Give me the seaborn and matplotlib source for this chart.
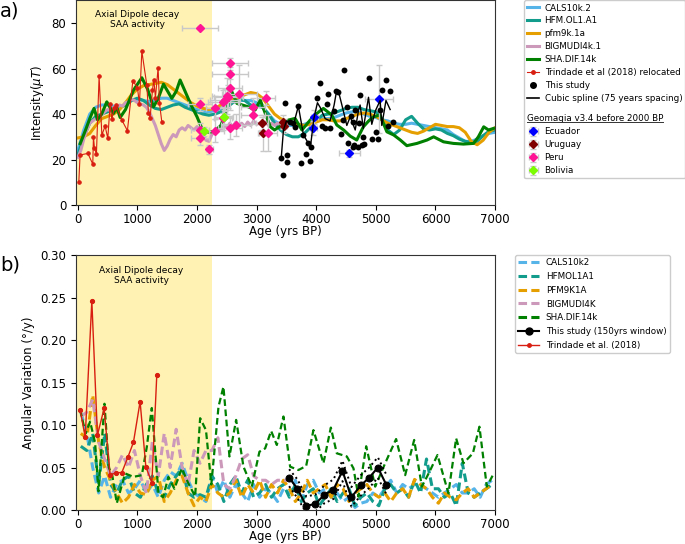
import matplotlib
matplotlib.use("Agg")
import matplotlib.pyplot as plt
import numpy as np
import seaborn as sns
from matplotlib.lines import Line2D
from matplotlib.offsetbox import DrawingArea
from matplotlib.transforms import IdentityTransform

# ---------------- panel a) intensity ----------------
AGE_GRID = np.arange(0, 7001, 100)

CALS_INT = [24, 33, 40, 43, 44, 44, 43.5, 43, 44, 46,
            46.5, 46, 45.5, 46, 47, 47, 46, 45, 44, 43,
            42, 41, 41, 41.5, 42.5, 44, 45.5, 46, 46, 46,
            45, 43, 40, 37, 35.5, 35, 35, 35, 35.5, 36.5,
            37.5, 38, 38, 38.5, 39.5, 40.5, 41, 41, 40, 39,
            38.5, 37.5, 37, 36, 35.5, 35.5, 36, 35.5, 35, 34.5,
            34, 33.5, 33, 31, 29.5, 28, 28, 29, 30.5, 31.5,
            32]
HFM_INT = [22, 30, 36, 39, 40, 41, 42, 43, 44, 46,
           47, 46, 44, 42.5, 42, 43, 44, 44.5, 43, 42,
           41, 40, 39.5, 40, 41, 43, 45, 46.5, 46, 44,
           43.5, 43, 40, 36, 33, 31, 30, 30, 31.5, 34,
           37, 39.5, 40, 40.5, 41.5, 42.5, 43, 43, 42, 41.5,
           41, 38, 33, 31, 33, 37.5, 39, 36, 33.5, 33,
           33.5, 33, 31.5, 30.5, 29, 28, 27.5, 28, 30.5, 32.5,
           33]
PFM_INT = [29.5, 30, 31.5, 35, 38, 39, 40, 42, 45, 48.5,
           51, 52.5, 53, 53.5, 54, 53, 51, 49, 47, 45,
           43.5, 42.5, 42, 42.5, 44, 45.5, 46.5, 47.5, 48.5, 49.5,
           49, 47, 43.5, 40, 38, 37, 36, 35.5, 35, 35.5,
           36.5, 37.5, 37.5, 37, 37, 38, 39, 40, 40.5, 40,
           39, 37.5, 36, 35, 34, 33, 32, 31.5, 32.5, 34,
           35.5, 35, 34.5, 34.5, 34, 32, 28, 26.5, 28.5, 32,
           34]

BIG_AGE = np.arange(0, 3501, 50)
BIG_INT = [21, 24, 29, 33, 36, 37, 38, 38.5, 39.5, 41,
           42, 41.5, 43, 42.5, 44, 43.5, 45, 45.5, 46.5, 46,
           45, 44.5, 44, 43, 41, 38, 35, 31, 27, 24,
           26, 29, 31, 30, 33, 34, 33, 35, 34, 33,
           34.5, 33, 31, 28.5, 28, 31, 32, 34, 33, 35,
           34, 36, 34.5, 36.5, 35, 36, 34.5, 36.5, 35, 37,
           35.5, 36, 35, 36.5, 35, 36, 35, 36, 35, 35.5,
           35]

SHA_AGE = [40, 130, 200, 272, 330, 400, 486, 598, 654, 710,
           800, 933, 1074, 1170, 1270, 1350, 1437, 1577, 1650, 1716,
           1800, 1900, 2000, 2100, 2200, 2300, 2400, 2475, 2585, 2670,
           2760, 2860, 2975, 3060, 3145, 3230, 3300, 3395, 3535, 3645,
           3760, 3900, 4010, 4120, 4260, 4345, 4460, 4570, 4680, 4790,
           4880, 4960, 5070, 5185, 5300, 5410, 5520, 5690, 5860, 5970,
           6135, 6300, 6470, 6640, 6720, 6810, 6890, 6975]
SHA_INT = [27, 33, 38, 42.5, 37.5, 40, 45.4, 40.3, 43, 38.5,
           42, 50.5, 56, 51, 43.2, 47, 53.2, 46.9, 50, 55,
           50, 44, 38.8, 32.5, 32, 32.5, 35, 40.3, 49.8, 44.7,
           44, 43.2, 41.8, 46.2, 40.3, 34.4, 33, 34.7, 37.4, 38.1,
           33, 37.4, 40.3, 42.5, 39.6, 35.2, 33, 30.3, 28.6, 34.4,
           37, 38.8, 39.6, 32.2, 30.8, 28.6, 26.1, 27.1, 28.6, 30,
           27.8, 27.1, 26.8, 27.1, 30, 34.4, 33, 33.7]

TRI_AGE = [17, 38, 168, 251, 262, 279, 312, 357, 403, 458,
           503, 542, 570, 614, 643, 738, 832, 923, 1000, 1034,
           1074, 1158, 1185, 1213, 1252, 1275, 1302, 1347, 1369, 1409]
TRI_INT = [10.3, 22.0, 22.7, 18.0, 30.0, 25.2, 22.3, 56.8, 30.8, 34.7,
           29.3, 44.4, 37.8, 42.9, 43.8, 37.4, 32.7, 54.6, 51.7, 44.4,
           67.7, 52.7, 40.6, 38.4, 50.5, 55.2, 47.2, 60.4, 45.0, 36.6]

STUDY_AGE = [3412, 3440, 3473, 3507, 3517, 3562, 3607, 3649, 3701, 3742,
             3786, 3826, 3854, 3899, 3909, 4020, 4065, 4103, 4148, 4178,
             4205, 4232, 4300, 4334, 4373, 4413, 4457, 4473, 4513, 4540,
             4580, 4614, 4624, 4636, 4653, 4700, 4725, 4736, 4760, 4780,
             4804, 4888, 4932, 5000, 5044, 5072, 5100, 5173, 5211, 5240,
             5296]
STUDY_INT = [20.5, 13.2, 45.1, 19.0, 22.0, 36.6, 35.9, 34.4, 43.5, 18.6,
             30.8, 22.4, 27.4, 19.5, 25.6, 47.2, 53.5, 34.7, 34.0, 44.4,
             48.7, 34.0, 41.3, 50.2, 49.8, 31.2, 37.4, 59.6, 43.2, 27.4,
             39.1, 25.6, 36.6, 26.4, 41.8, 25.5, 35.9, 48.4, 26.5, 30.0,
             26.8, 55.7, 28.9, 32.2, 28.9, 41.8, 50.5, 54.9, 34.7, 50.1,
             36.6]

SPLINE_AGE = [3412, 3450, 3500, 3560, 3620, 3700, 3786, 3860, 3900, 3960,
              4020, 4065, 4150, 4232, 4300, 4340, 4373, 4440, 4513, 4570,
              4654, 4710, 4736, 4790, 4877, 4932, 4990, 5072, 5100, 5170,
              5240]
SPLINE_INT = [20.5, 33, 37, 36.5, 35.5, 43.5, 30.8, 27.5, 25, 38,
              45, 43, 38, 37, 44, 50, 50, 43, 35, 38.8,
              33, 41.8, 44, 33.7, 47.4, 35.5, 41.3, 46, 35, 46,
              42]

ECU_AGE = [3953, 3970, 4557, 5055]
ECU_INT = [34.0, 38.8, 22.7, 46.5]
ECU_XERR = [60, 60, 170, 240]
ECU_YERR = [3, 3, 1.5, 15]

URU_AGE = [3087, 3115, 3440, 3462]
URU_INT = [35.9, 31.8, 36.6, 34.7]
URU_XERR = [100, 100, 50, 50]
URU_YERR = [3, 8, 3, 3]

PERU_AGE = [2052, 2052, 2052, 2052, 2203, 2299, 2304, 2431, 2433, 2471, 2500,
            2527, 2555, 2555, 2555, 2555, 2656, 2711, 2946, 2946, 3159, 3198]
PERU_INT = [78.1, 44.3, 33.0, 29.3, 24.6, 42.9, 32.7, 38.1, 45.4, 46.2, 48.0,
            47.6, 62.6, 57.6, 51.7, 34.0, 35.2, 48.7, 43.0, 39.6, 47.2, 31.8]
PERU_XERR = [300, 200, 150, 150, 60, 150, 150, 150, 250, 250, 250,
             250, 300, 300, 200, 200, 250, 300, 200, 200, 150, 150]
PERU_YERR = [0.5, 3, 3, 3, 2, 5, 5, 5, 5, 5, 8,
             5, 2, 2, 10, 5, 5, 13, 4, 4, 3, 8]

BOL_AGE = [2119, 2455]
BOL_INT = [32.5, 38.8]
BOL_XERR = [80, 150]
BOL_YERR = [2, 3]

# ---------------- panel b) angular variation ----------------
AV_AGE = np.arange(50, 7000, 100)
CALS_AV = [0.115, 0.09, 0.05, 0.02, 0.04, 0.015, 0.03, 0.035, 0.02, 0.025,
           0.035, 0.02, 0.03, 0.015, 0.035, 0.045, 0.04, 0.055, 0.035, 0.02,
           0.015, 0.01, 0.04, 0.02, 0.035, 0.015, 0.03, 0.02, 0.01, 0.03,
           0.015, 0.025, 0.02, 0.01, 0.025, 0.02, 0.035, 0.01, 0.03, 0.035,
           0.02, 0.025, 0.015, 0.02, 0.01, 0.015, 0.003, 0.008, 0.01, 0.02,
           0.015, 0.025, 0.035, 0.02, 0.03, 0.025, 0.03, 0.03, 0.025, 0.02,
           0.015, 0.02, 0.025, 0.03, 0.02, 0.02, 0.025, 0.015, 0.03, 0.035]
HFM_AV = [0.075, 0.07, 0.09, 0.03, 0.09, 0.03, 0.02, 0.035, 0.04, 0.02,
          0.015, 0.03, 0.04, 0.02, 0.015, 0.03, 0.04, 0.05, 0.02, 0.015,
          0.018, 0.015, 0.04, 0.03, 0.01, 0.03, 0.04, 0.02, 0.035, 0.015,
          0.02, 0.03, 0.015, 0.025, 0.03, 0.015, 0.03, 0.01, 0.02, 0.025,
          0.005, 0.015, 0.025, 0.01, 0.02, 0.025, 0.005, 0.015, 0.02, 0.01,
          0.005, 0.025, 0.03, 0.02, 0.025, 0.015, 0.035, 0.02, 0.06, 0.025,
          0.025, 0.015, 0.02, 0.005, 0.055, 0.02, 0.015, 0.02, 0.025, 0.03]
PFM_AV = [0.09, 0.085, 0.135, 0.08, 0.05, 0.035, 0.02, 0.008, 0.015, 0.03,
          0.02, 0.018, 0.035, 0.04, 0.01, 0.02, 0.035, 0.04, 0.02, 0.005,
          0.015, 0.01, 0.03, 0.02, 0.015, 0.02, 0.035, 0.015, 0.03, 0.02,
          0.035, 0.015, 0.03, 0.02, 0.035, 0.025, 0.01, 0.02, 0.035, 0.02,
          0.025, 0.03, 0.015, 0.03, 0.025, 0.01, 0.02, 0.025, 0.03, 0.02,
          0.015, 0.02, 0.01, 0.02, 0.025, 0.015, 0.036, 0.03, 0.025, 0.015,
          0.008, 0.02, 0.015, 0.012, 0.02, 0.025, 0.015, 0.02, 0.025, 0.03]
BIG_AV_AGE = np.arange(50, 3600, 100)
BIG_AV = [0.11, 0.115, 0.13, 0.08, 0.06, 0.04, 0.05, 0.065, 0.05, 0.07,
          0.04, 0.02, 0.08, 0.04, 0.09, 0.05, 0.095, 0.05, 0.03, 0.07,
          0.055, 0.07, 0.07, 0.085, 0.03, 0.025, 0.04, 0.06, 0.065, 0.04,
          0.035, 0.035, 0.03, 0.035, 0.035, 0.035]
SHA_AV_AGE = [39, 130, 206, 290, 346, 447, 520, 580, 654, 794,
              933, 1074, 1157, 1241, 1353, 1430, 1520, 1620, 1745, 1850,
              1968, 2052, 2150, 2240, 2360, 2443, 2544, 2656, 2779, 2919,
              3047, 3143, 3243, 3339, 3450, 3562, 3701, 3831, 3953, 4121,
              4245, 4345, 4513, 4625, 4708, 4838, 4989, 5156, 5340, 5492,
              5643, 5772, 5900, 6034, 6218, 6347, 6470, 6628, 6738, 6862,
              6963]
SHA_AV = [0.118, 0.09, 0.104, 0.079, 0.022, 0.125, 0.05, 0.04, 0.008, 0.043,
          0.039, 0.041, 0.074, 0.12, 0.02, 0.015, 0.039, 0.025, 0.049, 0.032,
          0.016, 0.108, 0.094, 0.03, 0.1215, 0.145, 0.063, 0.106, 0.051, 0.0275,
          0.0686, 0.0725, 0.093, 0.0765, 0.11, 0.051, 0.047, 0.0518, 0.094, 0.055,
          0.097, 0.0667, 0.063, 0.049, 0.0157, 0.075, 0.0275, 0.055, 0.0835, 0.041,
          0.0824, 0.0275, 0.045, 0.0647, 0.0196, 0.0843, 0.055, 0.0667, 0.098, 0.0275,
          0.041]

TS_AGE = [3545, 3685, 3831, 3982, 4138, 4289, 4440, 4590, 4748, 4888, 5034, 5173]
TS_AV = [0.038, 0.025, 0.005, 0.007, 0.018, 0.024, 0.046, 0.015, 0.029, 0.038, 0.050, 0.030]
TS_UP = [0.048, 0.036, 0.016, 0.018, 0.029, 0.036, 0.058, 0.027, 0.041, 0.050, 0.062, 0.042]
TS_LO = [0.028, 0.014, -0.003, -0.002, 0.008, 0.013, 0.034, 0.004, 0.017, 0.026, 0.038, 0.019]

TRI_AV_AGE = [39, 124, 235, 329, 441, 542, 643, 738, 839, 933, 1045, 1141, 1242, 1325]
TRI_AV = [0.118, 0.0855, 0.246, 0.088, 0.1196, 0.041, 0.044, 0.044, 0.062, 0.0796,
          0.1275, 0.051, 0.032, 0.159]

C_CALS = '#56B4E9'
C_HFM = '#129c8c'
C_PFM = '#E69F00'
C_BIG = '#cc99bb'
C_SHA = '#008000'
C_RED = '#d81e10'
C_ERR = '#c8c8c8'

plt.rcParams['font.family'] = ['DejaVu Sans']
FS = 8.5
LEG_FS = 6.3

fig = plt.figure(figsize=(6.85, 5.44), dpi=100)
ax1 = fig.add_axes([0.111, 0.6232, 0.6117, 0.3759])
ax2 = fig.add_axes([0.111, 0.0625, 0.6117, 0.4687])


def line(ax, x, y, color, **kw):
    sns.lineplot(x=list(x), y=list(y), ax=ax, color=color, estimator=None,
                 sort=False, errorbar=None, legend=False, **kw)


# ---- panel a ----
ax1.axvspan(-30, 2250, color='#FFD700', alpha=0.3, lw=0, zorder=0)
line(ax1, AGE_GRID, CALS_INT, C_CALS, lw=2.2, zorder=2)
line(ax1, AGE_GRID, HFM_INT, C_HFM, lw=2.2, zorder=2)
line(ax1, AGE_GRID, PFM_INT, C_PFM, lw=2.2, zorder=2)
line(ax1, BIG_AGE, BIG_INT, C_BIG, lw=2.2, zorder=2)
line(ax1, SHA_AGE, SHA_INT, C_SHA, lw=2.2, zorder=3)
line(ax1, TRI_AGE, TRI_INT, C_RED, lw=0.8, marker='o', ms=2.5, mec=C_RED, zorder=4)

geo = {}
for name, a, v, xe, ye, c in [
        ('Ecuador', ECU_AGE, ECU_INT, ECU_XERR, ECU_YERR, 'blue'),
        ('Uruguay', URU_AGE, URU_INT, URU_XERR, URU_YERR, '#800000'),
        ('Peru', PERU_AGE, PERU_INT, PERU_XERR, PERU_YERR, '#FF1493'),
        ('Bolivia', BOL_AGE, BOL_INT, BOL_XERR, BOL_YERR, '#7CFC00')]:
    geo[name] = ax1.errorbar(a, v, xerr=xe, yerr=ye, fmt='D', color=c, ms=4,
                             mec=c, ecolor=C_ERR, elinewidth=1, capsize=2,
                             zorder=5, label=name)

sns.scatterplot(x=STUDY_AGE, y=STUDY_INT, ax=ax1, color='black', s=18,
                linewidth=0, zorder=6, legend=False)
line(ax1, SPLINE_AGE, SPLINE_INT, 'black', lw=1.0, zorder=6)

ax1.set_xlim(-30, 7000)
ax1.set_ylim(0, 90)
ax1.set_yticks([0, 20, 40, 60, 80])
ax1.set_xticks(range(0, 7001, 1000))
ax1.set_xlabel('Age (yrs BP)', fontsize=FS, labelpad=-0.5)
ax1.set_ylabel(r'Intensity($\mu T$)', fontsize=FS)
ax1.tick_params(labelsize=FS)
ax1.tick_params(axis='x', pad=2)
ax1.text(1000, 81.6, 'Axial Dipole decay\nSAA activity', fontsize=6.5,
         ha='center', va='center', linespacing=1.15)

h_top = [Line2D([], [], color=C_CALS, lw=2.2),
         Line2D([], [], color=C_HFM, lw=2.2),
         Line2D([], [], color=C_PFM, lw=2.2),
         Line2D([], [], color=C_BIG, lw=2.2),
         Line2D([], [], color=C_SHA, lw=2.2),
         Line2D([], [], color=C_RED, lw=0.8, marker='o', ms=2.5),
         Line2D([], [], color='black', ls='none', marker='o', ms=4),
         Line2D([], [], color='black', lw=1.2),
         Line2D([], [], ls='none'),
         geo['Ecuador'], geo['Uruguay'], geo['Peru'], geo['Bolivia']]
l_top = ['CALS10k.2', 'HFM.OL1.A1', 'pfm9k.1a', 'BIGMUDI4k.1', 'SHA.DIF.14k',
         'Trindade et al (2018) relocated', 'This study',
         'Cubic spline (75 years spacing)', 'Geomagia v3.4 before 2000 BP',
         'Ecuador', 'Uruguay', 'Peru', 'Bolivia']
leg1 = ax1.legend(h_top, l_top, loc='upper left', bbox_to_anchor=(1.069, 1.0),
                  borderaxespad=0, fontsize=LEG_FS, labelspacing=0.45,
                  handlelength=1.4, handletextpad=0.6, borderpad=0.35,
                  framealpha=1, edgecolor='#cccccc', fancybox=True)
# a little extra room above the Geomagia header row
leg1._legend_handle_box.get_children()[0].get_children().insert(8, DrawingArea(1, 2.5))
geo_txt = leg1.get_texts()[8]
geo_txt.set_x(-(1.4 + 0.6) * LEG_FS * 100 / 72)

# ---- panel b ----
ax2.axvspan(-30, 2250, color='#FFD700', alpha=0.3, lw=0, zorder=0)
dash_w = (0, (2.8, 1.4))
line(ax2, AV_AGE, CALS_AV, C_CALS, lw=2.2, linestyle=dash_w, zorder=2)
line(ax2, AV_AGE, HFM_AV, C_HFM, lw=2.2, linestyle=dash_w, zorder=2)
line(ax2, AV_AGE, PFM_AV, C_PFM, lw=2.2, linestyle=dash_w, zorder=2)
line(ax2, BIG_AV_AGE, BIG_AV, C_BIG, lw=2.2, linestyle=dash_w, zorder=2)
line(ax2, SHA_AV_AGE, SHA_AV, C_SHA, lw=1.6, linestyle=(0, (3, 1.6)), zorder=3)
line(ax2, TS_AGE, TS_UP, 'black', lw=1.4, linestyle=':', zorder=5)
line(ax2, TS_AGE, TS_LO, 'black', lw=1.4, linestyle=':', zorder=5)
line(ax2, TS_AGE, TS_AV, 'black', lw=1.5, marker='o', ms=5, mec='black', zorder=6)
line(ax2, TRI_AV_AGE, TRI_AV, C_RED, lw=1.0, marker='o', ms=3, mec=C_RED, zorder=6)

ax2.set_xlim(-30, 7000)
ax2.set_ylim(0, 0.30)
ax2.set_xticks(range(0, 7001, 1000))
ax2.set_yticks([0, 0.05, 0.10, 0.15, 0.20, 0.25, 0.30])
ax2.set_yticklabels(['0.00', '0.05', '0.10', '0.15', '0.20', '0.25', '0.30'])
ax2.set_xlabel('Age (yrs BP)', fontsize=FS, labelpad=-0.5)
ax2.set_ylabel('Angular Variation (°/y)', fontsize=FS)
ax2.tick_params(labelsize=FS)
ax2.tick_params(axis='x', pad=2)
ax2.text(1060, 0.276, 'Axial Dipole decay\nSAA activity', fontsize=6.5,
         ha='center', va='center', linespacing=1.15)

h_bot = [Line2D([], [], color=C_CALS, lw=2.2, ls=dash_w),
         Line2D([], [], color=C_HFM, lw=2.2, ls=dash_w),
         Line2D([], [], color=C_PFM, lw=2.2, ls=dash_w),
         Line2D([], [], color=C_BIG, lw=2.2, ls=dash_w),
         Line2D([], [], color=C_SHA, lw=2.2, ls=dash_w),
         Line2D([], [], color='black', lw=1.5, marker='o', ms=5),
         Line2D([], [], color=C_RED, lw=1.0, marker='o', ms=2.5)]
l_bot = ['CALS10k2', 'HFMOL1A1', 'PFM9K1A', 'BIGMUDI4K', 'SHA.DIF.14k',
         'This study (150yrs window)', 'Trindade et al. (2018)']
ax2.legend(h_bot, l_bot, loc='upper left', bbox_to_anchor=(1.048, 1.0),
           borderaxespad=0, fontsize=LEG_FS, labelspacing=0.55,
           handlelength=2.4, handletextpad=0.75, borderpad=0.35,
           framealpha=1, edgecolor='#cccccc', fancybox=True)

for ax in (ax1, ax2):
    for sp in ax.spines.values():
        sp.set_color('#333333')

fig.text(0.0, 0.98, 'a)', fontsize=14, ha='left', va='center')
fig.text(0.0, 0.513, 'b)', fontsize=14, ha='left', va='center')

# underline the Geomagia header inside the legend
fig.canvas.draw()
bb = geo_txt.get_window_extent(fig.canvas.get_renderer())
fig.add_artist(Line2D([bb.x0, bb.x1], [bb.y0 + 1.5, bb.y0 + 1.5],
                      transform=IdentityTransform(), color='#333333', lw=0.7))

fig.savefig('out.png', dpi=100)
